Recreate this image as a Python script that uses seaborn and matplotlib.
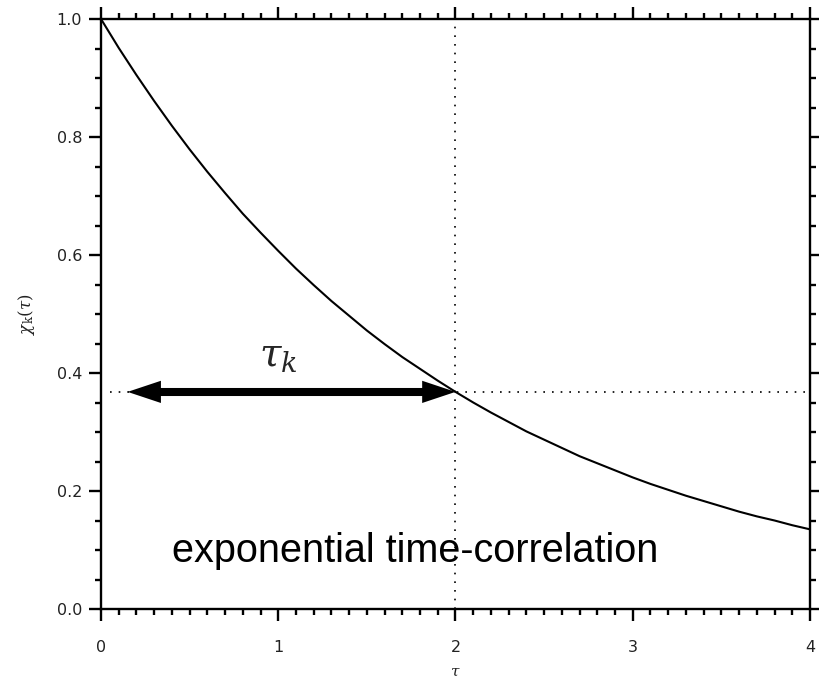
import matplotlib
matplotlib.use("Agg")
import matplotlib.pyplot as plt
from matplotlib.ticker import MultipleLocator, FormatStrFormatter
import seaborn as sns
import pandas as pd

# Time lag and the normalised time-correlation
tau = [0.0, 0.1, 0.2, 0.3, 0.4, 0.5, 0.6, 0.7, 0.8, 0.9, 1.0,
       1.1, 1.2, 1.3, 1.4, 1.5, 1.6, 1.7, 1.8, 1.9, 2.0,
       2.1, 2.2, 2.3, 2.4, 2.5, 2.6, 2.7, 2.8, 2.9, 3.0,
       3.1, 3.2, 3.3, 3.4, 3.5, 3.6, 3.7, 3.8, 3.9, 4.0]
chi = [1.000, 0.951, 0.905, 0.861, 0.819, 0.779, 0.741, 0.705, 0.670, 0.638, 0.607,
       0.577, 0.549, 0.522, 0.497, 0.472, 0.449, 0.427, 0.407, 0.387, 0.368,
       0.350, 0.333, 0.317, 0.301, 0.287, 0.273, 0.259, 0.247, 0.235, 0.223,
       0.212, 0.202, 0.192, 0.183, 0.174, 0.165, 0.157, 0.150, 0.142, 0.135]

# Correlation time and the level reached there
tau_k = 2.0
chi_tau_k = 0.368
arrow_start = 0.15
guide_start = 0.05

x_ticks = [0, 1, 2, 3, 4]
y_ticks = [0.0, 0.2, 0.4, 0.6, 0.8, 1.0]

df = pd.DataFrame({"tau": tau, "chi": chi})

sns.set_theme(style="ticks")
plt.rcParams["font.family"] = ["DejaVu Sans"]
plt.rcParams["mathtext.fontset"] = "dejavuserif"

fig = plt.figure(figsize=(8.2, 6.85), dpi=100)
ax = fig.add_axes([101 / 820, 1 - 609 / 685, 709 / 820, 590 / 685])

sns.lineplot(data=df, x="tau", y="chi", ax=ax, color="black", lw=1.5)

# Dotted guides through the correlation time
ax.axvline(tau_k, color="black", lw=1.2, ls=(0, (1, 4.2)))
ax.hlines(chi_tau_k, guide_start, 4, color="black", lw=1.2, ls=(0, (1, 4.2)))

# Double-headed arrow marking the correlation time: filled heads plus a thick shaft
head_len = 0.16
ax.hlines(chi_tau_k, arrow_start + head_len, tau_k - head_len,
          color="black", lw=5.8, capstyle="butt")
ax.annotate("", xy=(arrow_start, chi_tau_k), xytext=(tau_k, chi_tau_k),
            arrowprops=dict(arrowstyle="<|-|>,head_length=2.4,head_width=0.8",
                            mutation_scale=10, lw=0, color="black",
                            shrinkA=0, shrinkB=0))
ax.text(1.0, 0.398, r"$\tau_k$", fontsize=28, ha="center", va="bottom")

ax.text(1.77, 0.080, "exponential time-correlation",
        family=["Liberation Sans", "DejaVu Sans"], fontsize=28.5,
        ha="center", va="baseline", color="black")

ax.set_xlim(0, 4)
ax.set_ylim(0, 1)
ax.set_xticks(x_ticks)
ax.set_yticks(y_ticks)
ax.xaxis.set_minor_locator(MultipleLocator(0.1))
ax.yaxis.set_minor_locator(MultipleLocator(0.05))
ax.xaxis.set_major_formatter(FormatStrFormatter("%d"))
ax.yaxis.set_major_formatter(FormatStrFormatter("%.1f"))

for s in ax.spines.values():
    s.set_visible(True)
    s.set_linewidth(1.7)
    s.set_color("black")

ax.tick_params(which="both", direction="out", top=True, right=True,
               width=1.7, color="black", labelsize=11.5, labelcolor="#222222")
ax.tick_params(which="major", length=8.6)
ax.tick_params(which="minor", length=4.0)
ax.tick_params(axis="x", which="major", pad=14)
ax.tick_params(axis="y", which="major", pad=5)

ax.set_xlabel(r"$\tau$", fontsize=11, labelpad=6, color="#222222")
ax.set_ylabel(r"$\chi_{\rm k}(\tau)$", fontsize=12, labelpad=14, color="#222222")

fig.savefig("out.png", dpi=100, facecolor="white")
